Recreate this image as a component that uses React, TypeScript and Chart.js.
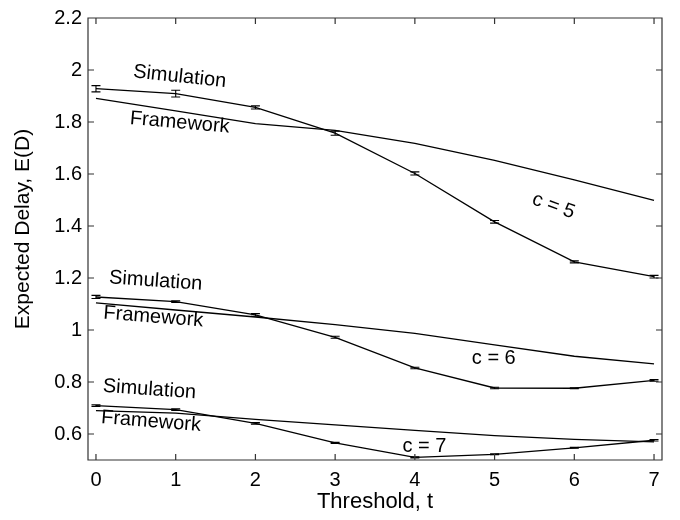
import React, { useEffect, useRef } from "react";
import { Chart, registerables } from "chart.js";

Chart.register(...registerables);

const thresholds = [0, 1, 2, 3, 4, 5, 6, 7];

const simC5 = [1.928, 1.909, 1.856, 1.757, 1.602, 1.416, 1.262, 1.205];
const errC5 = [0.012, 0.013, 0.006, 0.008, 0.006, 0.005, 0.004, 0.005];
const fwC5 = [1.891, 1.843, 1.794, 1.768, 1.718, 1.652, 1.577, 1.499];

const simC6 = [1.127, 1.109, 1.058, 0.972, 0.854, 0.777, 0.776, 0.806];
const errC6 = [0.006, 0.003, 0.005, 0.004, 0.003, 0.003, 0.002, 0.003];
const fwC6 = [1.104, 1.077, 1.05, 1.021, 0.987, 0.943, 0.899, 0.87];

const simC7 = [0.709, 0.694, 0.641, 0.566, 0.51, 0.522, 0.547, 0.576];
const errC7 = [0.003, 0.003, 0.003, 0.002, 0.002, 0.002, 0.002, 0.003];
const fwC7 = [0.69, 0.68, 0.656, 0.635, 0.614, 0.594, 0.579, 0.57];

const xTicks = [0, 1, 2, 3, 4, 5, 6, 7];
const yTicks = [0.6, 0.8, 1, 1.2, 1.4, 1.6, 1.8, 2, 2.2];

const xTitle = "Threshold, t";
const yTitle = "Expected Delay, E(D)";

// text annotations: label, threshold, value, rotation (degrees)
const notes: { text: string; t: number; v: number; angle: number }[] = [
  { text: "Simulation", t: 1.05, v: 1.974, angle: 6 },
  { text: "Framework", t: 1.05, v: 1.797, angle: 5 },
  { text: "c = 5", t: 5.74, v: 1.477, angle: 20 },
  { text: "Simulation", t: 0.75, v: 1.188, angle: 4 },
  { text: "Framework", t: 0.72, v: 1.05, angle: 4.5 },
  { text: "c = 6", t: 4.99, v: 0.889, angle: 0 },
  { text: "Simulation", t: 0.67, v: 0.771, angle: 4 },
  { text: "Framework", t: 0.69, v: 0.648, angle: 4.5 },
  { text: "c = 7", t: 4.12, v: 0.553, angle: 0 },
];

const FONT = "'Liberation Sans', Arial, Helvetica, sans-serif";

const toPts = (ys: number[]) => thresholds.map((t, i) => ({ x: t, y: ys[i] }));

const errorSeries = [
  { vals: simC5, errs: errC5 },
  { vals: simC6, errs: errC6 },
  { vals: simC7, errs: errC7 },
];

const errorBarPlugin = {
  id: "errorBars",
  afterDatasetsDraw(chart: any) {
    const { ctx, scales } = chart;
    const xs = scales.x;
    const ys = scales.y;
    ctx.save();
    ctx.strokeStyle = "#000";
    ctx.lineWidth = 1.1;
    errorSeries.forEach((s) => {
      thresholds.forEach((t, i) => {
        const px = xs.getPixelForValue(t);
        const top = ys.getPixelForValue(s.vals[i] + s.errs[i]);
        const bot = ys.getPixelForValue(s.vals[i] - s.errs[i]);
        const hw = 4.5;
        ctx.beginPath();
        ctx.moveTo(px, top);
        ctx.lineTo(px, bot);
        ctx.moveTo(px - hw, top);
        ctx.lineTo(px + hw, top);
        ctx.moveTo(px - hw, bot);
        ctx.lineTo(px + hw, bot);
        ctx.stroke();
      });
    });
    ctx.restore();
  },
};

const framePlugin = {
  id: "frame",
  afterDraw(chart: any) {
    const { ctx, chartArea, scales } = chart;
    const { left, right, top, bottom } = chartArea;
    const tl = 6;
    ctx.save();
    ctx.strokeStyle = "#333";
    ctx.lineWidth = 1.2;
    ctx.beginPath();
    ctx.rect(left, top, right - left, bottom - top);
    xTicks.forEach((v) => {
      const px = scales.x.getPixelForValue(v);
      ctx.moveTo(px, bottom);
      ctx.lineTo(px, bottom - tl);
      ctx.moveTo(px, top);
      ctx.lineTo(px, top + tl);
    });
    yTicks.forEach((v) => {
      const py = scales.y.getPixelForValue(v);
      ctx.moveTo(left, py);
      ctx.lineTo(left + tl, py);
      ctx.moveTo(right, py);
      ctx.lineTo(right - tl, py);
    });
    ctx.stroke();
    // y axis title
    ctx.fillStyle = "#000";
    ctx.font = `21px ${FONT}`;
    ctx.textAlign = "center";
    ctx.textBaseline = "middle";
    ctx.translate(23, (top + bottom) / 2 - 10);
    ctx.rotate(-Math.PI / 2);
    ctx.fillText(yTitle, 0, 0);
    ctx.restore();
  },
};

const notesPlugin = {
  id: "notes",
  afterDatasetsDraw(chart: any) {
    const { ctx, scales } = chart;
    ctx.save();
    ctx.fillStyle = "#000";
    ctx.font = `20px ${FONT}`;
    ctx.textAlign = "center";
    ctx.textBaseline = "middle";
    notes.forEach((n) => {
      const px = scales.x.getPixelForValue(n.t);
      const py = scales.y.getPixelForValue(n.v);
      ctx.save();
      ctx.translate(px, py);
      ctx.rotate((n.angle * Math.PI) / 180);
      ctx.fillText(n.text, 0, 0);
      ctx.restore();
    });
    ctx.restore();
  },
};

export default function App() {
  const ref = useRef<HTMLCanvasElement | null>(null);

  useEffect(() => {
    document.body.style.margin = "0";
    const canvas = ref.current;
    if (!canvas) return;
    const line = (ys: number[]) => ({
      data: toPts(ys),
      borderColor: "#000",
      borderWidth: 1.3,
      pointRadius: 0,
      fill: false,
      tension: 0,
    });
    const chart = new Chart(canvas, {
      type: "line",
      data: {
        datasets: [
          { label: "Simulation c=5", ...line(simC5) },
          { label: "Framework c=5", ...line(fwC5) },
          { label: "Simulation c=6", ...line(simC6) },
          { label: "Framework c=6", ...line(fwC6) },
          { label: "Simulation c=7", ...line(simC7) },
          { label: "Framework c=7", ...line(fwC7) },
        ],
      },
      options: {
        animation: false,
        responsive: false,
        devicePixelRatio: 1,
        layout: { padding: { top: 8, right: 18, left: 0, bottom: 0 } },
        plugins: {
          legend: { display: false },
          tooltip: { enabled: false },
        },
        scales: {
          x: {
            type: "linear",
            min: -0.1,
            max: 7.1,
            afterBuildTicks: (s: any) => {
              s.ticks = xTicks.map((v) => ({ value: v }));
            },
            afterFit: (s: any) => {
              s.height = 60;
            },
            grid: { display: false, drawTicks: false },
            border: { display: false },
            ticks: {
              color: "#000",
              font: { size: 20, family: FONT },
              padding: 8,
              maxRotation: 0,
              callback: (v: any) => String(v),
            },
            title: {
              display: true,
              text: xTitle,
              color: "#000",
              font: { size: 22, family: FONT },
              padding: { top: 0, bottom: 5 },
            },
          },
          y: {
            type: "linear",
            min: 0.5,
            max: 2.2,
            afterBuildTicks: (s: any) => {
              s.ticks = yTicks.map((v) => ({ value: v }));
            },
            afterFit: (s: any) => {
              s.width = 88;
            },
            grid: { display: false, drawTicks: false },
            border: { display: false },
            ticks: {
              color: "#000",
              font: { size: 20, family: FONT },
              padding: 6,
              callback: (v: any) => String(Number(Number(v).toFixed(1))),
            },
            title: { display: false },
          },
        },
      },
      plugins: [errorBarPlugin, notesPlugin, framePlugin],
    });
    return () => chart.destroy();
  }, []);

  return (
    <div style={{ width: 680, height: 520 }}>
      <canvas ref={ref} width={680} height={520} style={{ display: "block" }} />
    </div>
  );
}
